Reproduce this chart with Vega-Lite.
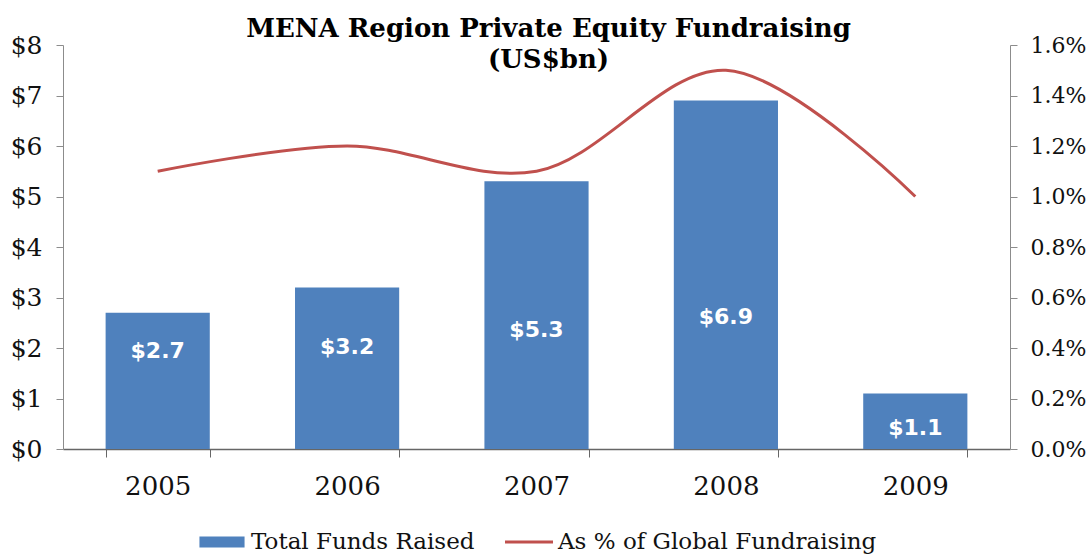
{
  "$schema": "https://vega.github.io/schema/vega-lite/v6.json",
  "autosize": {"type": "none"},
  "width": 947,
  "height": 404,
  "padding": {"left": 63, "top": 45, "right": 78, "bottom": 106},
  "background": "white",
  "config": {
    "view": {"stroke": null},
    "font": "DejaVu Serif",
    "axis": {"grid": false, "labelFont": "DejaVu Serif", "labelFontSize": 25, "labelColor": "#111", "titleFontSize": 0}
  },
  "title": {
    "text": ["MENA Region Private Equity Fundraising", "(US$bn)"],
    "font": "DejaVu Serif",
    "fontSize": 26,
    "fontWeight": "bold",
    "color": "#000",
    "anchor": "middle",
    "frame": "group",
    "dx": 12,
    "lineHeight": 31,
    "baseline": "alphabetic",
    "offset": -61
  },
  "data": {
    "values": [
      {"year": "2005", "funds": 2.7, "pct": 1.1},
      {"year": "2006", "funds": 3.2, "pct": 1.2},
      {"year": "2007", "funds": 5.3, "pct": 1.1},
      {"year": "2008", "funds": 6.9, "pct": 1.5},
      {"year": "2009", "funds": 1.1, "pct": 1.0}
    ]
  },
  "encoding": {
    "x": {
      "field": "year",
      "type": "ordinal",
      "scale": {"paddingInner": 0.45, "paddingOuter": 0.225},
      "axis": {
        "title": null,
        "labelAngle": 0,
        "labelFontSize": 26,
        "tickBand": "extent",
        "domainColor": "#666",
        "tickColor": "#666",
        "tickSize": 8,
        "labelPadding": 16,
        "domainWidth": 1.5
      }
    }
  },
  "layer": [
    {
      "mark": {"type": "bar", "color": "#4F81BD"},
      "encoding": {
        "y": {
          "field": "funds",
          "type": "quantitative",
          "scale": {"domain": [0, 8]},
          "axis": {
            "title": null,
            "values": [0, 1, 2, 3, 4, 5, 6, 7, 8],
            "labelExpr": "'$' + datum.value",
            "domainColor": "#8c8c8c",
            "tickColor": "#8c8c8c",
            "tickSize": 7,
            "labelPadding": 14
          }
        },
        "color": {
          "datum": "Total Funds Raised",
          "type": "nominal",
          "scale": {"domain": ["Total Funds Raised", "As % of Global Fundraising"], "range": ["#4F81BD", "#C0504D"]},
          "legend": {
            "title": null,
            "orient": "none",
            "legendX": 135,
            "legendY": 473,
            "direction": "horizontal",
            "labelFont": "DejaVu Serif",
            "labelFontSize": 23,
            "labelColor": "#111",
            "labelOffset": 5,
            "columnPadding": 30,
            "symbolSize": 2304,
            "labelLimit": 500,
            "encode": {
              "symbols": {
                "update": {
                  "shape": {"signal": "datum.value === 'Total Funds Raised' ? 'M-0.94,-0.23H0.94V0.23H-0.94Z' : 'M-1,-0.065H1V0.065H-1Z'"},
                  "fill": {"signal": "datum.value === 'Total Funds Raised' ? '#4F81BD' : '#C0504D'"},
                  "stroke": {"value": "transparent"},
                  "strokeWidth": {"value": 0},
                  "opacity": {"value": 1},
                  "fillOpacity": {"value": 1}
                }
              }
            }
          }
        }
      }
    },
    {
      "transform": [{"calculate": "datum.funds < 2 ? datum.funds / 2.6 : 1.5 + 0.16 * datum.funds", "as": "labelPos"}],
      "mark": {"type": "text", "color": "white", "font": "DejaVu Sans", "fontWeight": "bold", "fontSize": 22, "baseline": "middle"},
      "encoding": {
        "y": {"field": "labelPos", "type": "quantitative", "scale": {"domain": [0, 8]}, "axis": null},
        "text": {"field": "funds", "type": "quantitative", "format": "$.1f"}
      }
    },
    {
      "mark": {"type": "line", "color": "#C0504D", "strokeWidth": 3, "interpolate": "catmull-rom"},
      "encoding": {
        "y": {
          "field": "pct",
          "type": "quantitative",
          "scale": {"domain": [0, 1.6]},
          "axis": {
            "title": null,
            "orient": "right",
            "values": [0, 0.2, 0.4, 0.6, 0.8, 1.0, 1.2, 1.4, 1.6],
            "labelExpr": "format(datum.value, '.1f') + '%'",
            "labelFontSize": 22,
            "domainColor": "#8c8c8c",
            "tickColor": "#8c8c8c",
            "tickSize": 7,
            "labelPadding": 13
          }
        },
        "color": {"datum": "As % of Global Fundraising", "type": "nominal"}
      }
    }
  ],
  "resolve": {"scale": {"y": "independent"}}
}
